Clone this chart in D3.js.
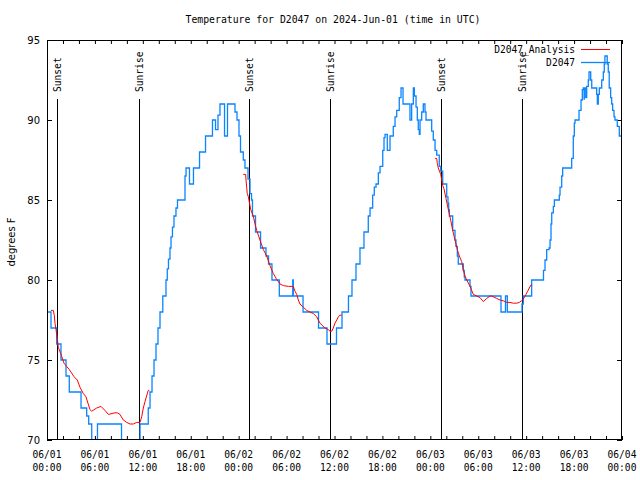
<!DOCTYPE html>
<html>
<head>
<meta charset="utf-8">
<script src="https://cdn.jsdelivr.net/npm/d3@7"></script>
<style>
body { margin: 0; background: #fff; }
text { font-family: "DejaVu Sans Mono", monospace; font-size: 9.6px; fill: #000; }
</style>
</head>
<body>
<svg width="640" height="480"></svg>
<script>

// hours since 06/01 00:00 UTC, temperature F
let observed = [
  [0.13,78],[0.5,77],[1.21,76],[1.75,75],[2.38,74],[2.79,73],[4.26,72],[4.97,71.5],[5.22,71],
  [5.6,69],[6.32,71],[9.33,69],[11.65,71],[12.68,72],[12.9,73],[13.15,74],[13.4,75],[13.65,76],
  [13.9,77],[14.15,78],[14.5,79],[14.9,80],[15.06,80.7],[15.21,81.3],[15.4,82],[15.53,82.7],
  [15.71,83.3],[15.9,84],[16.15,84.5],[16.34,85],[17.28,86.5],[17.41,87],[17.84,86],[18.34,87],
  [19.1,88],[19.85,89],[20.72,90],[21.1,89.4],[21.41,90.3],[21.66,91],[22.23,89],[22.6,91],
  [23.54,90.5],[23.79,90],[24.04,89],[24.23,88],[24.58,87.5],[24.79,87],[25.17,86.3],[25.42,85.4],
  [25.61,85],[25.73,84],[26.11,83],[26.74,82],[27.42,81.5],[27.74,81],[28.17,80],[29.09,79],
  [30.77,80],[30.84,79],[32.06,78],[34.0,77],[35.06,76],[36.25,77],[36.94,78],[37.75,79],
  [38.19,80],[38.69,81],[39.19,82],[39.69,83],[40.23,84],[40.45,84.5],[40.78,85.3],[40.98,85.8],
  [41.2,86],[41.49,86.7],[41.7,87.1],[42.04,88.1],[42.2,88.9],[42.33,89.1],[42.61,88.1],[42.95,89],
  [43.36,89.6],[43.58,90.2],[43.79,90.6],[44.11,91.4],[44.33,92],[44.58,91],[45.45,90],[45.66,91],
  [45.87,92],[46.0,91.5],[46.21,90.8],[46.37,90],[46.49,89.4],[46.62,89.1],[46.71,90],[46.92,90.5],
  [47.12,91],[47.33,90.5],[47.46,90],[48.17,89.3],[48.37,88.75],[48.59,88.1],[48.8,87.8],
  [49.12,87.1],[49.3,86.8],[49.55,86],[50.05,85.2],[50.21,84.8],[50.3,84.4],[50.38,84],[50.8,83.1],
  [51.09,82.5],[51.21,82.1],[51.38,81.5],[51.5,81],[52.13,80.6],[52.25,80.2],[52.34,80],
  [52.97,79.6],[53.09,79],[56.85,78],[57.41,79],[57.64,78],[59.48,78.5],[59.64,79],[60.69,80],
  [62.17,80.6],[62.36,81.25],[62.57,81.9],[62.86,82],[62.99,82.5],[63.11,83.5],[63.2,84.2],
  [63.4,84.6],[63.53,85],[64.15,85.3],[64.24,85.8],[64.45,86.5],[64.57,87],[65.7,87.6],[65.9,89],
  [66.03,89.8],[66.12,90],[66.62,90.6],[66.87,91.25],[67.03,91.9],[67.16,92],[67.25,91.3],
  [67.28,92],[67.46,91.4],[67.58,92.1],[67.78,92.5],[67.87,93],[68.08,92.5],[68.21,92],
  [68.83,91.6],[68.91,91],[69.03,91.6],[69.16,92],[69.46,92.5],[69.66,93],[69.78,93.5],[69.86,94],
  [70.15,93.5],[70.28,93],[70.4,92],[70.58,91.4],[70.71,91],[70.83,90.6],[71.0,90.2],[71.12,90],
  [71.41,89.6],[71.66,89],[72.0,89]
]

let analysisNight1 = [
  [0.5,78.1],[0.79,78.1],[0.91,77.8],[1.0,77.3],[1.13,76.9],[1.29,76.35],[1.41,75.8],[1.72,75.4],
  [2.13,74.8],[2.79,74.4],[3.38,73.96],[3.79,73.75],[4.13,73.3],[4.55,72.9],[4.88,72.7],[5.38,71.9],
  [5.6,71.8],[6.22,72],[6.76,72.1],[7.35,71.8],[7.68,71.6],[8.51,71.7],[8.8,71.7],[9.14,71.6],
  [9.55,71.25],[9.98,71.1],[10.39,71],[10.81,71],[11.23,71.1],[11.65,71.1],[11.86,71.45],
  [12.06,72],[12.27,72.4],[12.68,73.1],[12.81,73.1]
]
let analysisNight2 = [
  [24.58,86.6],[24.88,86.6],[24.92,86.25],[25.0,85.8],[25.08,85.4],[25.21,85.2],[25.51,84.4],
  [25.83,84],[26.05,83.5],[26.26,83.1],[26.67,82.5],[27.09,81.9],[27.51,81.5],[27.92,80.9],
  [28.34,80.4],[28.76,80.04],[29.18,79.75],[29.59,79.65],[30.22,79.6],[30.84,79.6],[31.05,79.3],
  [31.27,79.1],[31.47,78.75],[31.68,78.5],[32.09,78.3],[32.52,78.1],[32.93,78],[33.35,77.9],
  [33.77,77.7],[34.18,77.3],[34.81,77],[35.22,76.9],[35.44,76.8],[35.65,76.8],[35.85,77],
  [36.06,77.3],[36.28,77.5],[36.48,77.7],[36.69,77.8],[36.9,77.8]
]
let analysisNight3 = [
  [48.59,87.6],[48.8,87.6],[48.87,87.3],[49.0,87],[49.3,86.6],[49.55,85.9],[49.71,85.7],
  [49.96,85.1],[50.25,84.4],[50.55,83.75],[50.8,83.1],[51.09,82.5],[51.38,81.9],[51.63,81.5],
  [51.93,81.15],[52.13,80.6],[52.38,80.2],[52.56,80],[52.97,79.6],[53.38,79.1],[53.81,79],
  [54.22,78.9],[54.63,78.65],[55.06,78.85],[55.47,79],[55.68,79],[55.88,78.95],[56.31,78.85],
  [56.72,78.75],[57.14,78.7],[57.56,78.6],[57.98,78.6],[58.39,78.55],[58.82,78.55],[59.14,78.6],
  [59.44,78.7],[59.64,78.8],[59.98,79.1],[60.19,79.3],[60.39,79.5],[60.61,79.7],[60.73,79.7]
]

let sunHours = [1.28, 11.48, 25.3, 35.47, 49.33, 59.45]
let sunNames = ["Sunset", "Sunrise", "Sunset", "Sunrise", "Sunset", "Sunrise"]
let yTicks = [70, 75, 80, 85, 90, 95]

let start = Date.UTC(2024, 5, 1)
let toDate = h => new Date(start + h * 3600e3)

let plotLeft = 47, plotRight = 622, plotTop = 40, plotBottom = 440

let x = d3.scaleUtc().domain([toDate(0), toDate(72)]).range([plotLeft, plotRight])
let y = d3.scaleLinear().domain([70, 95]).range([plotBottom, plotTop])

let svg = d3.select("svg")

svg.append("defs").append("clipPath").attr("id", "plot")
    .append("rect").attr("x", plotLeft).attr("y", plotTop)
    .attr("width", plotRight - plotLeft).attr("height", plotBottom - plotTop)

// title
svg.append("text")
    .attr("x", 333).attr("y", 23)
    .attr("text-anchor", "middle")
    .style("font-size", "9.8px")
    .text("Temperature for D2047 on 2024-Jun-01 (time in UTC)")

// axes (ticks point inward)
let xTicks = d3.utcHour.every(2)
svg.append("g").attr("transform", `translate(0,${plotBottom})`)
    .call(d3.axisBottom(x).ticks(xTicks).tickSize(-4).tickFormat(""))
    .call(g => g.select(".domain").remove())
svg.append("g").attr("transform", `translate(0,${plotTop})`)
    .call(d3.axisTop(x).ticks(xTicks).tickSize(-4).tickFormat(""))
    .call(g => g.select(".domain").remove())

let yAxis = svg.append("g").attr("transform", `translate(${plotLeft},0)`)
    .call(d3.axisLeft(y).tickValues(yTicks).tickSize(-5).tickPadding(7))
    .call(g => g.select(".domain").remove())
yAxis.selectAll("text")
    .style("font-family", "'DejaVu Sans', sans-serif")
    .style("font-size", "10px")
svg.append("g").attr("transform", `translate(${plotRight},0)`)
    .call(d3.axisRight(y).tickValues(yTicks).tickSize(-5).tickFormat(""))
    .call(g => g.select(".domain").remove())

svg.selectAll(".tick line").attr("stroke", "#000")

// x labels, two lines every 6 hours
let labelDates = d3.utcHour.every(6).range(toDate(0), toDate(72.01))
let fmtDay = d3.utcFormat("%m/%d"), fmtTime = d3.utcFormat("%H:%M")
let xl = svg.append("g").selectAll("text").data(labelDates).join("text")
    .attr("text-anchor", "middle")
    .attr("x", d => x(d))
xl.append("tspan").attr("x", d => x(d)).attr("y", 458).text(d => fmtDay(d))
xl.append("tspan").attr("x", d => x(d)).attr("y", 471).text(d => fmtTime(d))

// y label
svg.append("text")
    .attr("transform", "translate(11,242) rotate(-90)")
    .attr("text-anchor", "middle")
    .attr("dy", "0.35em")
    .style("font-family", "'DejaVu Sans', sans-serif")
    .style("font-size", "10px")
    .text("degrees F")

// sunrise / sunset markers
let sun = svg.append("g")
sunHours.forEach((h, i) => {
    let sx = Math.round(x(toDate(h))) + 0.5
    sun.append("line")
        .attr("x1", sx).attr("x2", sx)
        .attr("y1", 99).attr("y2", plotBottom)
        .attr("stroke", "#000").attr("stroke-width", 1)
    sun.append("text")
        .attr("transform", `translate(${sx},92) rotate(-90)`)
        .attr("dy", "0.35em")
        .text(sunNames[i])
})

let plot = svg.append("g").attr("clip-path", "url(#plot)")

let stepLine = d3.line()
    .x(d => x(toDate(d[0])))
    .y(d => y(d[1]))
    .curve(d3.curveStepAfter)

let smoothLine = d3.line()
    .x(d => x(toDate(d[0])))
    .y(d => y(d[1]))

plot.append("path")
    .attr("d", stepLine(observed))
    .attr("fill", "none")
    .attr("stroke", "#0a84ff")
    .attr("stroke-width", 1.3)

;[analysisNight1, analysisNight2, analysisNight3].forEach(seg => {
    plot.append("path")
        .attr("d", smoothLine(seg))
        .attr("fill", "none")
        .attr("stroke", "#ff0000")
        .attr("stroke-width", 1)
})

// legend
svg.append("text").attr("x", 575).attr("y", 53).attr("text-anchor", "end").text("D2047_Analysis")
svg.append("line").attr("x1", 581).attr("x2", 610).attr("y1", 49.5).attr("y2", 49.5)
    .attr("stroke", "#ff0000").attr("stroke-width", 1)
svg.append("text").attr("x", 575).attr("y", 66).attr("text-anchor", "end").text("D2047")
svg.append("line").attr("x1", 581).attr("x2", 610).attr("y1", 62.5).attr("y2", 62.5)
    .attr("stroke", "#0a84ff").attr("stroke-width", 1.3)

// frame
svg.append("rect")
    .attr("x", plotLeft + 0.5).attr("y", plotTop + 0.5)
    .attr("width", plotRight - plotLeft - 1).attr("height", plotBottom - plotTop - 1)
    .attr("fill", "none").attr("stroke", "#000")

</script>
</body>
</html>
